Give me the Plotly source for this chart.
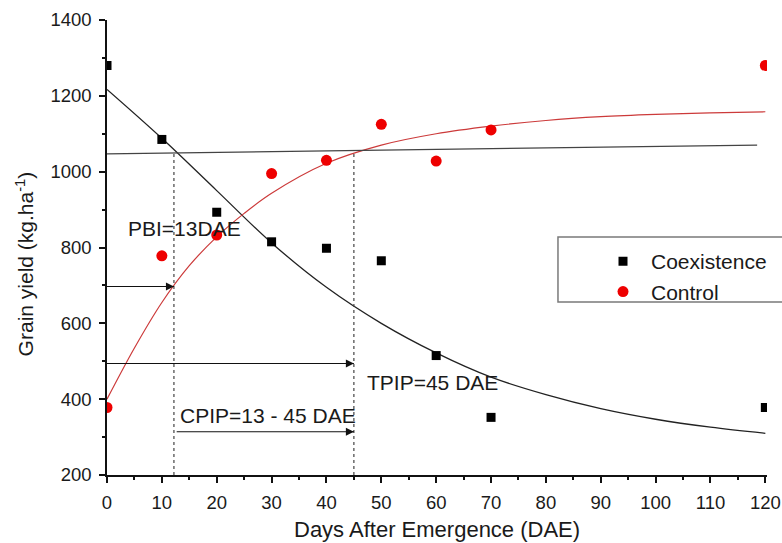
import plotly.graph_objects as go

# Observed data
days = [0, 10, 20, 30, 40, 50, 60, 70, 120]
coexistence = [1280, 1085, 893, 815, 798, 765, 515, 352, 378]
control = [378, 778, 833, 995, 1030, 1125, 1028, 1110, 1280]

# Fitted curves
coex_fit_x = [0, 10, 20, 30, 40, 50, 60, 70, 80, 90, 100, 110, 120]
coex_fit_y = [1217, 1088, 950, 812, 695, 600, 522, 458, 412, 375, 347, 326, 310]
ctrl_fit_x = [0, 5, 10, 15, 20, 25, 30, 40, 50, 60, 70, 80, 90, 100, 110, 120]
ctrl_fit_y = [400, 535, 655, 752, 828, 890, 943, 1022, 1070, 1100, 1120, 1135, 1145, 1151, 1155, 1158]

# Reference (near-horizontal) line
ref_x = [0, 118.5]
ref_y = [1047, 1070]

# Critical period markers
pbi_day = 12.2
tpip_day = 45.0
pbi_top = 1049
tpip_top = 1056

# Arrows: (start day, end day, yield level)
arrow_start = [0, 0, 12.7]
arrow_end = [12.2, 45.0, 45.0]
arrow_level = [697, 494, 314]

# Texts
labels = ["PBI=13DAE", "TPIP=45 DAE", "CPIP=13 - 45 DAE"]
label_x = [3.5, 47.1, 13.0]
label_y = [851, 443, 358]

FONT = "Liberation Sans, Arial, sans-serif"
INK = "#1a1a1a"

fig = go.Figure()

fig.add_trace(go.Scatter(x=coex_fit_x, y=coex_fit_y, mode="lines", line=dict(color="#222222", width=1.3, shape="spline"),
                         showlegend=False, hoverinfo="skip"))
fig.add_trace(go.Scatter(x=ctrl_fit_x, y=ctrl_fit_y, mode="lines", line=dict(color="#cc3a3a", width=1.2, shape="spline"),
                         showlegend=False, hoverinfo="skip"))
fig.add_trace(go.Scatter(x=ref_x, y=ref_y, mode="lines", line=dict(color="#444444", width=1.2),
                         showlegend=False, hoverinfo="skip"))
fig.add_trace(go.Scatter(x=[pbi_day, pbi_day], y=[200, pbi_top], mode="lines",
                         line=dict(color="#444444", width=1.2, dash="dot"), showlegend=False, hoverinfo="skip"))
fig.add_trace(go.Scatter(x=[tpip_day, tpip_day], y=[200, tpip_top], mode="lines",
                         line=dict(color="#444444", width=1.2, dash="dot"), showlegend=False, hoverinfo="skip"))

# Arrows: shafts + heads
shaft_x, shaft_y = [], []
for s, e, lv in zip(arrow_start, arrow_end, arrow_level):
    shaft_x += [s, e, None]
    shaft_y += [lv, lv, None]
fig.add_trace(go.Scatter(x=shaft_x, y=shaft_y, mode="lines", line=dict(color="#111111", width=1.1),
                         showlegend=False, hoverinfo="skip", cliponaxis=False))
fig.add_trace(go.Scatter(x=arrow_end, y=arrow_level, mode="markers",
                         marker=dict(symbol="arrow-right", size=8, color="#111111", line=dict(width=0)),
                         showlegend=False, hoverinfo="skip"))

fig.add_trace(go.Scatter(x=days, y=coexistence, mode="markers", name="Coexistence",
                         marker=dict(symbol="square", size=9, color="#000000")))
fig.add_trace(go.Scatter(x=days, y=control, mode="markers", name="Control",
                         marker=dict(symbol="circle", size=11, color="#ee0000")))

for t, lx, ly in zip(labels, label_x, label_y):
    fig.add_annotation(x=lx, y=ly, xref="x", yref="y", text=t, showarrow=False,
                       xanchor="left", yanchor="middle", font=dict(family=FONT, size=21, color=INK))

# Axis titles
fig.add_annotation(x=0.5, y=-0.1205, xref="paper", yref="paper", text="Days After Emergence (DAE)",
                   showarrow=False, xanchor="center", yanchor="middle",
                   font=dict(family=FONT, size=22, color=INK))
fig.add_annotation(x=-0.125, y=0.464, xref="paper", yref="paper", text="Grain yield (kg.ha<sup>-1</sup>)",
                   showarrow=False, xanchor="center", yanchor="middle", textangle=-90,
                   font=dict(family=FONT, size=21, color=INK))

# legend box
fig.add_shape(type="rect", xref="paper", yref="paper", x0=0.6833, x1=1.2, y0=0.380, y1=0.523,
              line=dict(color="#7a7a7a", width=1.5), fillcolor="rgba(0,0,0,0)")

axis_common = dict(showline=True, linecolor="#111111", linewidth=1.5, ticks="outside", ticklen=6,
                   tickwidth=1.5, tickcolor="#111111", showgrid=False, zeroline=False,
                   automargin=False, tickfont=dict(family=FONT, size=18.5, color=INK))

fig.update_layout(
    width=782, height=543,
    margin=dict(l=107, r=15, t=20, b=68, autoexpand=False),
    plot_bgcolor="white", paper_bgcolor="white",
    font=dict(family=FONT, size=16, color=INK),
    legend=dict(x=0.7394, y=0.514, xanchor="left", yanchor="top", bgcolor="rgba(0,0,0,0)",
                font=dict(family=FONT, size=21, color=INK), itemwidth=46, borderwidth=0),
    xaxis=dict(range=[0, 120.3], tickmode="array", tickvals=list(range(0, 121, 10)),
               ticklabelstandoff=4,
               minor=dict(tickmode="linear", tick0=0, dtick=5, ticks="outside", ticklen=3.5,
                          tickwidth=1.5, tickcolor="#111111", showgrid=False),
               **axis_common),
    yaxis=dict(range=[200, 1400], tickmode="array", tickvals=list(range(200, 1401, 200)),
               ticklabelstandoff=4,
               minor=dict(tickmode="linear", tick0=200, dtick=100, ticks="outside", ticklen=3.5,
                          tickwidth=1.5, tickcolor="#111111", showgrid=False),
               **axis_common),
)

fig.write_html("out.html", config={"displayModeBar": False},
               post_script="document.body.style.margin='0';document.body.style.padding='0';"
                           "document.documentElement.style.overflow='hidden';")
